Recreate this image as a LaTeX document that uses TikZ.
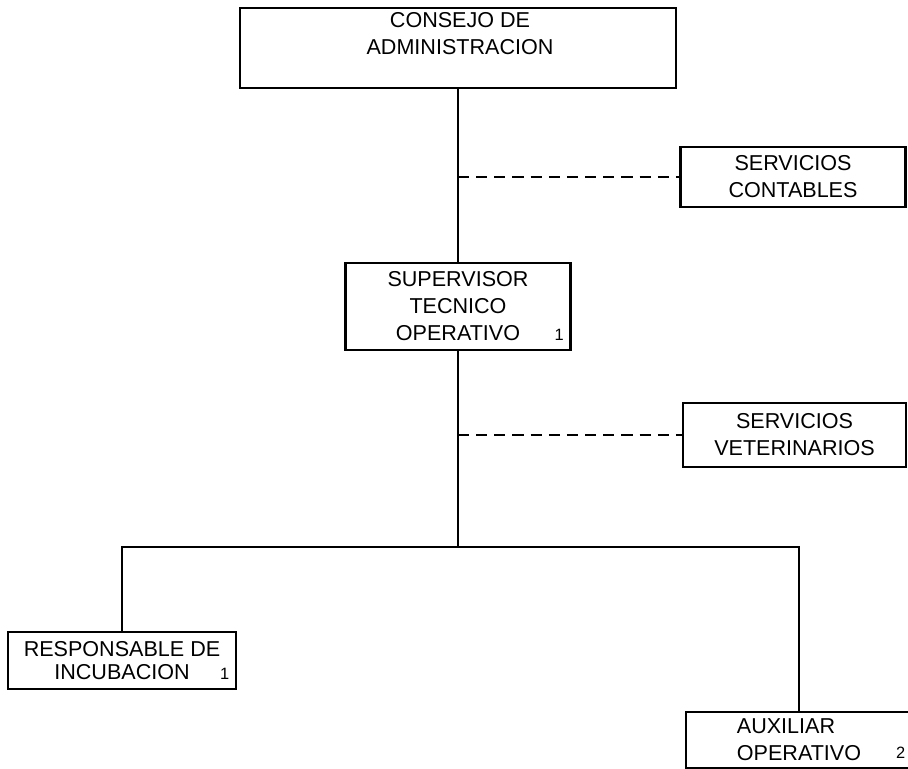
\documentclass[tikz,border=0pt]{standalone}
\usepackage{fontspec}
\setmainfont{Liberation Sans}

\begin{document}
\begin{tikzpicture}[x=0.03cm, y=-0.03cm,
    caja/.style={draw, line width=1.9pt, rectangle, inner sep=0pt, align=center,
                 font=\fontsize{18.4pt}{23pt}\selectfont},
    num/.style={font=\fontsize{14pt}{16pt}\selectfont, xshift=-0.37cm, yshift=0.5cm},
    linea/.style={line width=1.6pt},
    punteado/.style={line width=1.6pt, dash pattern=on 9.5pt off 6pt}]
  \useasboundingbox (0,0) rectangle (908,769);

  % Consejo
  \node[caja, minimum width=13.08cm, minimum height=2.4cm] (consejo) at (458,48) {};
  \node[caja, draw=none] (consejotxt) at (460,34) {CONSEJO DE\\ADMINISTRACION};

  % Staff
  \node[caja, minimum width=6.75cm, minimum height=1.8cm] (contables) at (793,177) {SERVICIOS\\CONTABLES};
  \node[caja, minimum width=6.69cm, minimum height=1.92cm] (veterinarios) at (794.5,435) {SERVICIOS\\VETERINARIOS};

  % Supervisor
  \node[caja, minimum width=6.75cm, minimum height=2.61cm] (supervisor) at (458,306.5) {SUPERVISOR\\TECNICO\\OPERATIVO\hspace{0.3cm}};
  \node[num] (supnum) at (supervisor.south east) {1};

  % Abajo
  \node[caja, minimum width=6.84cm, minimum height=1.71cm, font=\fontsize{18.4pt}{19.6pt}\selectfont] (responsable) at (122,660.5) {RESPONSABLE DE\\INCUBACION\hspace{0.6cm}};
  \node[num] (resnum) at (responsable.south east) {1};
  \node[caja, minimum width=6.78cm, minimum height=1.68cm, align=left] (auxiliar) at (799,740) {AUXILIAR\\OPERATIVO\hspace{0.45cm}};
  \node[num] (auxnum) at (auxiliar.south east) {2};

  % Lineas
  \coordinate (ramal) at (458,547);
  \draw[linea] (consejo.south) -- (supervisor.north);
  \draw[linea] (supervisor.south) -- (ramal);
  \draw[linea] (ramal) -| (responsable.north);
  \draw[linea] (ramal) -| (auxiliar.north);
  \draw[punteado] (contables.west -| consejo.south) -- (contables.west);
  \draw[punteado] (veterinarios.west -| consejo.south) -- (veterinarios.west);
\end{tikzpicture}
\end{document}
